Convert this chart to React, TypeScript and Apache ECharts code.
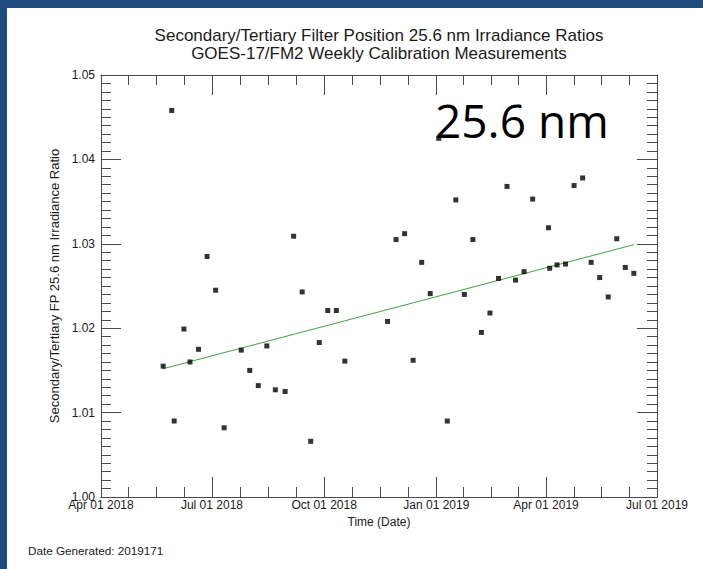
import React, { useEffect, useRef } from "react";
import * as echarts from "echarts";

// ---- data ----
const measurementDates = [
  "2018-05-22", "2018-05-29", "2018-05-31", "2018-06-08", "2018-06-13", "2018-06-20",
  "2018-06-27", "2018-07-04", "2018-07-11", "2018-07-25", "2018-08-01", "2018-08-08",
  "2018-08-15", "2018-08-22", "2018-08-30", "2018-09-06", "2018-09-13", "2018-09-20",
  "2018-09-27", "2018-10-04", "2018-10-11", "2018-10-18", "2018-11-22", "2018-11-29",
  "2018-12-06", "2018-12-13", "2018-12-20", "2018-12-27", "2019-01-03", "2019-01-10",
  "2019-01-17", "2019-01-24", "2019-01-31", "2019-02-07", "2019-02-14", "2019-02-21",
  "2019-02-28", "2019-03-07", "2019-03-14", "2019-03-21", "2019-04-03", "2019-04-04",
  "2019-04-10", "2019-04-17", "2019-04-24", "2019-05-01", "2019-05-08", "2019-05-15",
  "2019-05-22", "2019-05-29", "2019-06-05", "2019-06-12",
];
const irradianceRatios = [
  1.0155, 1.0458, 1.0090, 1.0199, 1.0160, 1.0175,
  1.0285, 1.0245, 1.0082, 1.0174, 1.0150, 1.0132,
  1.0179, 1.0127, 1.0125, 1.0309, 1.0243, 1.0066,
  1.0183, 1.0221, 1.0221, 1.0161, 1.0208, 1.0305,
  1.0312, 1.0162, 1.0278, 1.0241, 1.0425, 1.0090,
  1.0352, 1.0240, 1.0305, 1.0195, 1.0218, 1.0259,
  1.0368, 1.0257, 1.0267, 1.0353, 1.0319, 1.0271,
  1.0275, 1.0276, 1.0369, 1.0378, 1.0278, 1.0260,
  1.0237, 1.0306, 1.0272, 1.0265,
];
const trendDates = ["2018-05-22", "2019-06-12"];
const trendValues = [1.0152, 1.0299];

const majorTickDates = ["2018-04-01", "2018-07-01", "2018-10-01", "2019-01-01", "2019-04-01", "2019-07-01"];
const majorTickLabels = ["Apr 01 2018", "Jul 01 2018", "Oct 01 2018", "Jan 01 2019", "Apr 01 2019", "Jul 01 2019"];

const titleLines = [
  "Secondary/Tertiary Filter Position 25.6 nm Irradiance Ratios",
  "GOES-17/FM2 Weekly Calibration Measurements",
];
const yAxisTitle = "Secondary/Tertiary FP 25.6 nm Irradiance Ratio";
const xAxisTitle = "Time (Date)";
const bigLabel = "25.6 nm";
const footer = "Date Generated: 2019171";

const toTs = (s: string) => {
  const [y, m, d] = s.split("-").map(Number);
  return Date.UTC(y, m - 1, d);
};

export default function App() {
  const ref = useRef<HTMLDivElement>(null);

  useEffect(() => {
    if (!ref.current) return;
    const chart = echarts.init(ref.current, undefined, { renderer: "svg" });

    const majorTs = majorTickDates.map(toTs);
    const minorTs: number[] = [];
    for (let i = 0; i < majorTs.length - 1; i++) {
      for (let k = 1; k < 4; k++) minorTs.push(majorTs[i] + ((majorTs[i + 1] - majorTs[i]) * k) / 4);
    }
    const xMin = majorTs[0];
    const xMax = majorTs[majorTs.length - 1];
    const font = "'Liberation Sans', Arial, sans-serif";
    const axisColor = "#4a4a4a";
    const textColor = "#1a1a1a";

    const labelFor = (v: number) => {
      let best = 0;
      for (let i = 0; i < majorTs.length; i++) {
        if (Math.abs(majorTs[i] - v) < Math.abs(majorTs[best] - v)) best = i;
      }
      return majorTickLabels[best];
    };

    const xBase = (position: "top" | "bottom", ticks: number[], len: number, labels: boolean) => ({
      type: "value",
      min: xMin,
      max: xMax,
      position,
      axisLine: { show: true, onZero: false, lineStyle: { color: axisColor, width: 1 } },
      axisTick: { show: true, inside: true, length: len, customValues: ticks, lineStyle: { color: axisColor, width: 1 } },
      axisLabel: labels
        ? {
            show: true,
            customValues: majorTs,
            formatter: (v: number) => labelFor(v),
            margin: 2,
            fontFamily: font,
            fontSize: 12,
            color: textColor,
            showMinLabel: true,
            showMaxLabel: true,
          }
        : { show: false },
      splitLine: { show: false },
      minorTick: { show: false },
    });

    const yBase = (position: "left" | "right", labels: boolean) => ({
      type: "value",
      min: 1.0,
      max: 1.05,
      interval: 0.01,
      position,
      axisLine: { show: true, onZero: false, lineStyle: { color: axisColor, width: 1 } },
      axisTick: { show: true, inside: true, length: 20, lineStyle: { color: axisColor, width: 1 } },
      minorTick: { show: true, splitNumber: 10, length: 10, lineStyle: { color: axisColor, width: 1 } },
      axisLabel: labels
        ? { show: true, formatter: (v: number) => v.toFixed(2), margin: 6, fontFamily: font, fontSize: 12, color: textColor }
        : { show: false },
      splitLine: { show: false },
      minorSplitLine: { show: false },
    });

    const xMain: any = xBase("bottom", majorTs, 20, true);
    xMain.name = xAxisTitle;
    xMain.nameLocation = "middle";
    xMain.nameGap = 10;
    xMain.nameTextStyle = { fontFamily: font, fontSize: 12, color: textColor };

    const yMain: any = yBase("left", true);
    yMain.name = yAxisTitle;
    yMain.nameLocation = "middle";
    yMain.nameRotate = 90;
    yMain.nameGap = 37;
    yMain.nameTextStyle = { fontFamily: font, fontSize: 13, color: textColor };

    chart.setOption({
      animation: false,
      backgroundColor: "#ffffff",
      grid: { left: 94, top: 67, right: 46, bottom: 72 },
      xAxis: [
        xMain,
        xBase("bottom", minorTs, 10, false),
        xBase("top", majorTs, 20, false),
        xBase("top", minorTs, 10, false),
      ],
      yAxis: [yMain, yBase("right", false)],
      graphic: [
        {
          type: "text",
          x: 372,
          y: 36.5,
          style: {
            text: titleLines.join("\n"),
            font: `17px ${font}`,
            lineHeight: 17.5,
            fill: textColor,
            textAlign: "center",
            textVerticalAlign: "middle",
          },
        },
        {
          type: "text",
          x: 428,
          y: 112,
          z: 10,
          style: { text: bigLabel, font: `46px 'Open Sans', sans-serif`, fill: "#000", textAlign: "left", textVerticalAlign: "middle" },
        },
        {
          type: "text",
          x: 21,
          y: 542,
          style: { text: footer, font: `11.7px ${font}`, fill: textColor, textAlign: "left", textVerticalAlign: "middle" },
        },
      ],
      series: [
        {
          type: "scatter",
          xAxisIndex: 0,
          yAxisIndex: 0,
          symbol: "rect",
          symbolSize: 5,
          itemStyle: { color: "#000" },
          data: measurementDates.map((d, i) => [toTs(d), irradianceRatios[i]]),
          z: 3,
        },
        {
          type: "line",
          xAxisIndex: 0,
          yAxisIndex: 0,
          showSymbol: false,
          symbol: "none",
          lineStyle: { color: "#3da33d", width: 1 },
          data: trendDates.map((d, i) => [toTs(d), trendValues[i]]),
          z: 2,
        },
      ],
    });

    return () => chart.dispose();
  }, []);

  return (
    <div style={{ position: "absolute", left: 0, top: 0, width: 703, height: 569, background: "#1f4b7e" }}>
      <div ref={ref} style={{ position: "absolute", left: 7, top: 8, width: 696, height: 561, background: "#fff" }} />
    </div>
  );
}
